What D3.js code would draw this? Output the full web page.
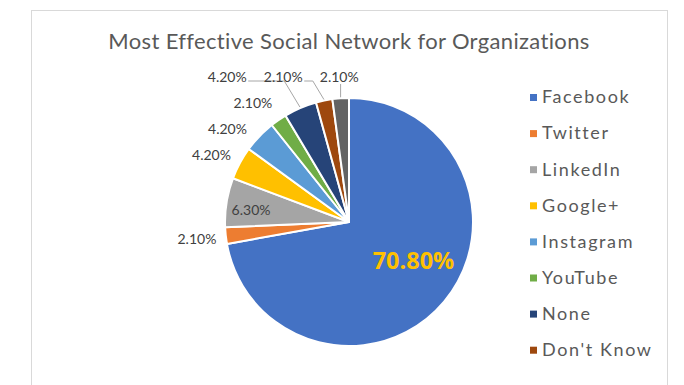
<!DOCTYPE html>
<html><head><meta charset="utf-8">
<script src="https://cdn.jsdelivr.net/npm/d3@7"></script>
<style>html,body{margin:0;padding:0;background:#fff;}svg{display:block;}</style>
</head><body>
<svg id="c" width="684" height="385"></svg>
<script>
const categories = ["Facebook","Twitter","LinkedIn","Google+","Instagram","YouTube","None","Don't Know","Other"];
const values = [70.8, 2.1, 6.3, 4.2, 4.2, 2.1, 4.2, 2.1, 2.1];
const labels = ["70.80%","2.10%","6.30%","4.20%","4.20%","2.10%","4.20%","2.10%","2.10%"];
const colors = ["#4472C4","#ED7D31","#A5A5A5","#FFC000","#5B9BD5","#70AD47","#264478","#9E480E","#636363"];
const legendCount = 8;
const title = "Most Effective Social Network for Organizations";

const svg = d3.select("#c");
svg.append("rect").attr("x",31.5).attr("y",10.5).attr("width",636).attr("height",390)
  .attr("fill","#fff").attr("stroke","#d9d9d9");

svg.append("text").attr("x",349).attr("y",49).attr("text-anchor","middle")
  .attr("font-family","Lato, 'Open Sans', sans-serif").attr("font-size",22).attr("letter-spacing",0.35)
  .attr("fill","#595959").text(title);

const cx = 349, cy = 222, r = 124;
const g = svg.append("g").attr("transform",`translate(${cx},${cy})`);
const pie = d3.pie().sort(null).value(d=>d)(values);
const arc = d3.arc().innerRadius(0).outerRadius(r);
g.selectAll("path").data(pie).join("path").attr("d",arc)
  .attr("fill",(d,i)=>colors[i]).attr("stroke","#fff").attr("stroke-width",2).attr("stroke-linejoin","round");

const font = "Lato, 'Open Sans', sans-serif";
const lblSize = 14;
// inside labels
pie.forEach((d,i)=>{
  if (values[i] < 5) return;
  const big = i===0;
  const c = d3.arc().innerRadius(0).outerRadius(big? r*1.25 : r*1.6).centroid(d);
  g.append("text").attr("x",c[0] + (big?5:0)).attr("y",c[1] + (big?-11:4)).attr("text-anchor","middle").attr("dy","0.35em")
    .attr("font-family",big?"'Open Sans', sans-serif":font).attr("font-size",big?23.5:lblSize).attr("font-weight",big?700:400)
    .attr("fill",big?"#FFC000":"#404040").text(labels[i]);
});

// outside labels
const R = 153;
const outs = pie.map((d,i)=>({d,i,mid:(d.startAngle+d.endAngle)/2})).filter(o=>values[o.i] < 5);
const topY = -145;
outs.forEach(o=>{ o.x = R*Math.sin(o.mid); o.y = -R*Math.cos(o.mid); });
const topRow = outs.filter(o=>o.y < topY + 10).sort((a,b)=>b.mid-a.mid);
let prevX = Infinity;
topRow.forEach(o=>{
  o.top = true; o.y = topY;
  const ideal = -topY*Math.tan(o.mid);
  o.x = Math.min(ideal, prevX - 56); prevX = o.x;
});
const left = outs.filter(o=>!o.top).sort((a,b)=>a.y-b.y);
let prevY = topY;
left.forEach(o=>{
  if (o.y < prevY + 26) o.y = prevY + 26;
  o.x = -Math.sqrt(R*R - o.y*o.y);
  prevY = o.y;
});
outs.forEach(o=>{
  const edge = [ (r+1)*Math.sin(o.mid), -(r+1)*Math.cos(o.mid) ];
  if (o.top) {
    const ly = o.y + 4;
    const pts = Math.abs(edge[0]-o.x) < 6 ? [[edge[0], ly+3],[edge[0],edge[1]]] :
      [[o.x+21, ly],[Math.max(o.x+29, edge[0]-Math.abs(edge[1]-ly)*0.6), ly],[edge[0],edge[1]]];
    g.append("path").attr("d",d3.line()(pts)).attr("fill","none").attr("stroke","#a6a6a6").attr("stroke-width",1);
  }
  g.append("text").attr("x",o.x).attr("y",o.y).attr("text-anchor","middle").attr("dy","0.35em")
    .attr("font-family",font).attr("font-size",lblSize).attr("fill","#404040").text(labels[o.i]);
});

// legend
const lg = svg.append("g");
categories.slice(0,legendCount).forEach((c,i)=>{
  const y = 97 + i*36.1;
  lg.append("rect").attr("x",530).attr("y",y-3).attr("width",7).attr("height",7).attr("fill",colors[i]);
  lg.append("text").attr("x",542).attr("y",y).attr("dy","0.35em")
    .attr("font-family","Lato, sans-serif").attr("font-size",18).attr("letter-spacing",1.6)
    .attr("fill","#595959").text(c);
});
</script>
</body></html>
